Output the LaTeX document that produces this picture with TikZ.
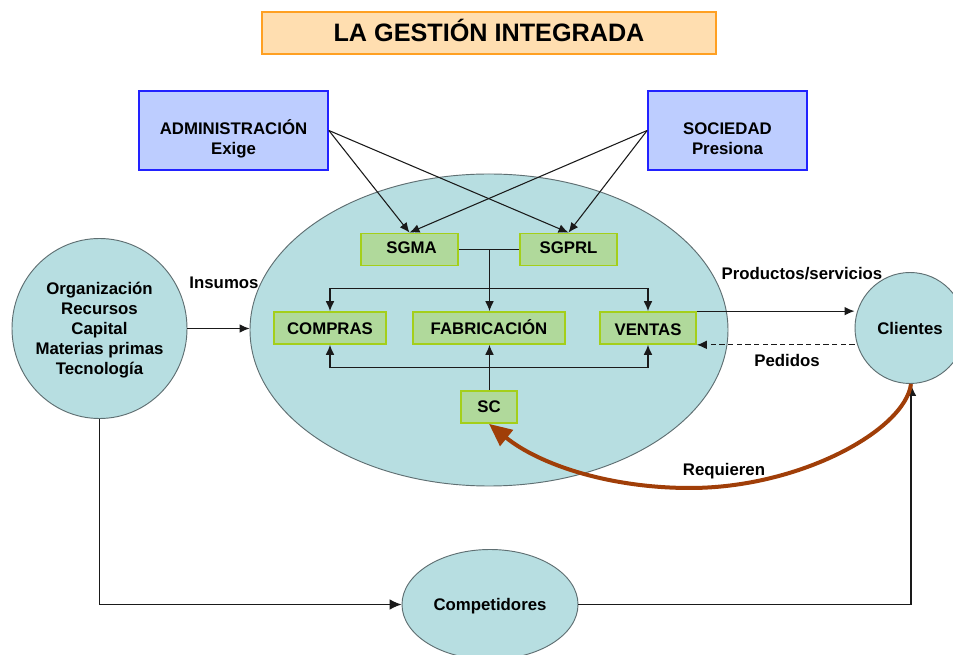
\documentclass[tikz,border=0pt]{standalone}
\usepackage{fontspec}
\setmainfont{Liberation Sans}
\usetikzlibrary{arrows.meta,shapes.geometric,calc}
\definecolor{teal}{HTML}{B7DEE1}
\definecolor{ringgray}{HTML}{5F6F72}
\definecolor{boxgreen}{HTML}{B0D99B}
\definecolor{boxedge}{HTML}{A4CF1A}
\definecolor{bluefill}{HTML}{BDCDFF}
\definecolor{blueedge}{HTML}{2222FF}
\definecolor{titlefill}{HTML}{FFDEB0}
\definecolor{titleedge}{HTML}{FFA022}
\definecolor{brownline}{HTML}{A03E08}
\definecolor{inkline}{HTML}{1A1A1A}
\tikzset{
  x=0.75pt,y=-0.75pt,
  txt/.style={font=\fontsize{12.6}{15}\selectfont\bfseries,text=black,align=center,inner sep=0pt},
  titlebox/.style={draw=titleedge,fill=titlefill,line width=1.6pt,inner sep=0pt,text height=13.6pt,text depth=1.5pt,font=\fontsize{18.9}{22}\selectfont\bfseries},
  bluebox/.style={draw=blueedge,fill=bluefill,line width=1.3pt},
  greenbox/.style={txt,draw=boxedge,fill=boxgreen,line width=1.3pt,text height=9.15pt,text depth=0pt},
  round/.style={txt,ellipse,draw=ringgray,fill=teal,line width=0.7pt},
  wire/.style={draw=inkline,line width=0.8pt},
  arrow/.style={wire,-{Latex[length=7.5pt,width=6.5pt]}},
  bigarrow/.style={wire,-{Latex[length=9pt,width=8pt]}},
  sized/.style n args={2}{minimum width=#1*0.75pt,minimum height=#2*0.75pt},
}
\begin{document}
\begin{tikzpicture}
\useasboundingbox (0,0) rectangle (953,655);
\fill[white] (0,0) rectangle (953,655);
\clip (0,0) rectangle (953,655);

\node[round,sized={478}{312}] (core) at (489,330) {};
\node[round,sized={175}{180}] (org) at (99.5,328.5) {};
\node[txt] (orgtxt) at (99.5,330) {Organización\\Recursos\\Capital\\Materias primas\\Tecnología};
\node[round,sized={110}{111}] (cli) at (910,328) {Clientes};
\node[round,sized={176}{110}] (comp) at (490,604.5) {};
\node[txt] (comptxt) at (490,606.5) {Competidores};

\node[titlebox,sized={454}{42}] (title) at (489,33) {LA GESTIÓN INTEGRADA};
\node[bluebox,sized={189}{79}] (adm) at (233.5,130.5) {};
\node[txt] (admtxt) at (233.5,139) {ADMINISTRACIÓN\\Exige};
\node[bluebox,sized={159}{79}] (soc) at (727.5,130.5) {};
\node[txt] (soctxt) at (727.5,139) {SOCIEDAD\\Presiona};

\node[greenbox,sized={97}{32},text depth=3pt] (sgma) at (409.5,249.5) {\hspace{3pt}SGMA};
\node[greenbox,sized={97}{32},text depth=3pt] (sgprl) at (568.5,249.5) {SGPRL};
\node[greenbox,sized={112}{32}] (compras) at (330,328) {COMPRAS};
\node[greenbox,sized={152}{32}] (fab) at (489,328) {FABRICACIÓN};
\node[greenbox,sized={96}{32},text depth=0pt,text height=10.6pt] (ven) at (648,328) {VENTAS};
\node[greenbox,sized={56}{32},text depth=1.5pt] (sc) at (489,407) {SC};

\node[txt] (ins) at (224,283) {Insumos};
\node[txt] (prod) at (802,274) {Productos/servicios};
\node[txt] (ped) at (787,360) {Pedidos};
\node[txt] (req) at (724,471) {Requieren};

\coordinate (topbus) at (489.5,288.5);
\coordinate (lowbus) at (489.5,367.5);
\coordinate (lowleft) at (99.5,604.5);
\coordinate (lowright) at (911,604.5);

\draw[arrow] (adm.east) -- (sgma.north);
\draw[arrow] (adm.east) -- (sgprl.north);
\draw[arrow] (soc.west) -- (sgma.north);
\draw[arrow] (soc.west) -- (sgprl.north);

\draw[wire] (sgma.east) -- (sgprl.west);
\draw[arrow] (sgma.east -| topbus) -- (topbus |- fab.north);
\draw[arrow] (topbus) -| (compras.north);
\draw[arrow] (topbus) -| (ven.north);

\draw[arrow] (sc.north -| lowbus) -- (lowbus |- fab.south);
\draw[arrow] (lowbus) -| (compras.south);
\draw[arrow] (lowbus) -| (ven.south);

\draw[arrow] (org.east) -- (org.east -| core.west);
\draw[arrow] (ven.north east) -- (ven.north east -| cli.west);
\draw[arrow,dash pattern=on 4pt off 2.5pt] (ven.south east -| cli.west) -- (ven.south east);

\draw[bigarrow] (org.south) -- (lowleft) -- (comp.west);
\draw[bigarrow] (comp.east) -- (lowright) -- (cli.south -| lowright);

\draw[brownline,line width=3pt,-{Triangle[length=17pt,width=15pt]}]
  (cli.south -| lowright) .. controls (905,430) and (800,488) .. (690,488)
  .. controls (610,488) and (540,465) .. (sc.south);
\end{tikzpicture}
\end{document}
